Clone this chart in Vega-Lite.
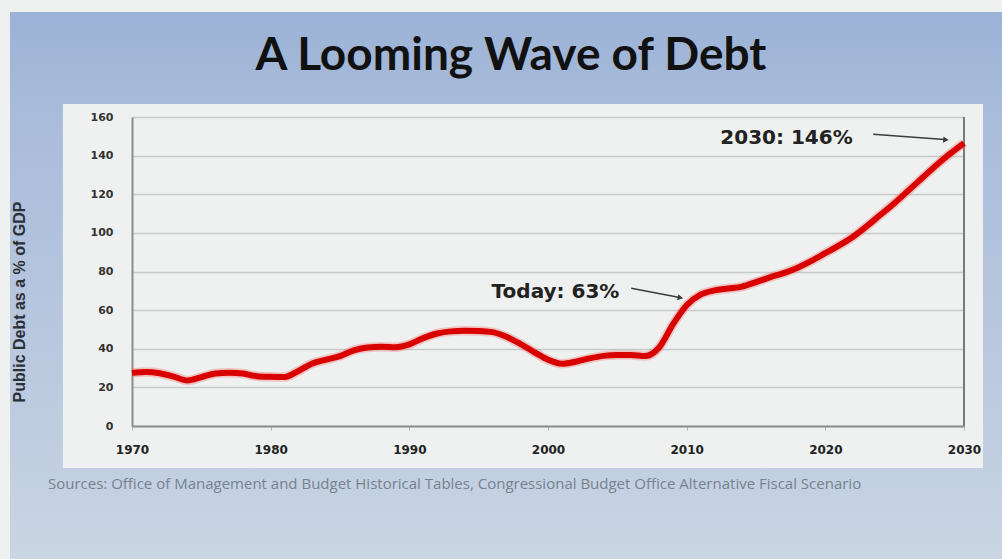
{
  "$schema": "https://vega.github.io/schema/vega-lite/v6.json",
  "width": 832,
  "height": 309,
  "autosize": {"type": "none"},
  "padding": {"left": 132, "top": 117, "right": 38, "bottom": 133},
  "background": "#eef1ef",
  "config": {
    "view": {"stroke": null},
    "axisX": {
      "title": null, "tickCount": 6, "format": "d",
      "grid": false, "domainColor": "#8c8c8c", "domainWidth": 2,
      "tickColor": "#b4b4b4", "tickSize": 4, "tickWidth": 1,
      "labelFont": "DejaVu Sans", "labelFontWeight": "bold", "labelFontSize": 12,
      "labelColor": "#222222", "labelPadding": 14, "labelFlush": false, "labelOverlap": false
    },
    "axisY": {
      "title": null, "tickCount": 9,
      "grid": true, "gridColor": "#c6c9ca", "gridWidth": 1.5,
      "domainColor": "#8c8c8c", "domainWidth": 2, "ticks": false,
      "labelPadding": 19, "labelFont": "DejaVu Sans", "labelFontWeight": "bold",
      "labelFontSize": 11, "labelColor": "#333333", "labelOverlap": false
    }
  },
  "datasets": {
    "debt": [
      {"year": 1970, "debt": 27.5}, {"year": 1971, "debt": 28.0}, {"year": 1972, "debt": 27.3},
      {"year": 1973, "debt": 25.6}, {"year": 1974, "debt": 23.6}, {"year": 1975, "debt": 25.3},
      {"year": 1976, "debt": 27.2}, {"year": 1977, "debt": 27.6}, {"year": 1978, "debt": 27.2},
      {"year": 1979, "debt": 25.8}, {"year": 1980, "debt": 25.5}, {"year": 1981, "debt": 25.4},
      {"year": 1982, "debt": 28.5}, {"year": 1983, "debt": 32.4}, {"year": 1984, "debt": 34.4},
      {"year": 1985, "debt": 36.2}, {"year": 1986, "debt": 39.2}, {"year": 1987, "debt": 40.7},
      {"year": 1988, "debt": 41.0}, {"year": 1989, "debt": 40.8}, {"year": 1990, "debt": 42.3},
      {"year": 1991, "debt": 45.5}, {"year": 1992, "debt": 47.9}, {"year": 1993, "debt": 49.0},
      {"year": 1994, "debt": 49.3}, {"year": 1995, "debt": 49.2}, {"year": 1996, "debt": 48.6},
      {"year": 1997, "debt": 46.2}, {"year": 1998, "debt": 42.5}, {"year": 1999, "debt": 38.3},
      {"year": 2000, "debt": 34.3}, {"year": 2001, "debt": 32.2}, {"year": 2002, "debt": 33.3},
      {"year": 2003, "debt": 35.0}, {"year": 2004, "debt": 36.3}, {"year": 2005, "debt": 36.8},
      {"year": 2006, "debt": 36.8}, {"year": 2007, "debt": 36.2}, {"year": 2008, "debt": 40.5},
      {"year": 2009, "debt": 52.5}, {"year": 2010, "debt": 62.5}, {"year": 2011, "debt": 68.0},
      {"year": 2012, "debt": 70.2}, {"year": 2013, "debt": 71.2}, {"year": 2014, "debt": 72.2},
      {"year": 2015, "debt": 74.5}, {"year": 2016, "debt": 77.0}, {"year": 2017, "debt": 79.2},
      {"year": 2018, "debt": 82.0}, {"year": 2019, "debt": 85.5}, {"year": 2020, "debt": 89.5},
      {"year": 2021, "debt": 93.5}, {"year": 2022, "debt": 98.0}, {"year": 2023, "debt": 103.5},
      {"year": 2024, "debt": 109.5}, {"year": 2025, "debt": 115.5}, {"year": 2026, "debt": 122.0},
      {"year": 2027, "debt": 128.5}, {"year": 2028, "debt": 135.0}, {"year": 2029, "debt": 141.0},
      {"year": 2030, "debt": 146.5}
    ],
    "notes": [
      {"label": "Today: 63%", "tx": 2000.54, "ty": 69.6, "ax": 2006.0, "ay": 71.3, "bx": 2009.5, "by": 66.5},
      {"label": "2030: 146%", "tx": 2017.2, "ty": 149.0, "ax": 2023.45, "ay": 151.1, "bx": 2028.6, "by": 148.3}
    ]
  },
  "layer": [
    {
      "data": {"values": [{}]},
      "mark": {"type": "rect", "color": {"gradient": "linear", "x1": 0, "y1": 0, "x2": 0, "y2": 1, "stops": [{"offset": 0, "color": "#9bb2d6"}, {"offset": 1, "color": "#a8bbda"}]}},
      "encoding": {"x": {"datum": 1961.2}, "x2": {"datum": 2033.5}, "y": {"datum": 214.4}, "y2": {"datum": 166.7}}
    },
    {
      "data": {"values": [{}]},
      "mark": {"type": "rect", "color": {"gradient": "linear", "x1": 0, "y1": 0, "x2": 0, "y2": 1, "stops": [{"offset": 0, "color": "#a8bbda"}, {"offset": 1, "color": "#c2cfe1"}]}},
      "encoding": {"x": {"datum": 1961.2}, "x2": {"datum": 1965.02}, "y": {"datum": 166.7}, "y2": {"datum": -21.75}}
    },
    {
      "data": {"values": [{}]},
      "mark": {"type": "rect", "color": {"gradient": "linear", "x1": 0, "y1": 0, "x2": 0, "y2": 1, "stops": [{"offset": 0, "color": "#a8bbda"}, {"offset": 1, "color": "#c2cfe1"}]}},
      "encoding": {"x": {"datum": 2031.37}, "x2": {"datum": 2033.5}, "y": {"datum": 166.7}, "y2": {"datum": -21.75}}
    },
    {
      "data": {"values": [{}]},
      "mark": {"type": "rect", "color": {"gradient": "linear", "x1": 0, "y1": 0, "x2": 0, "y2": 1, "stops": [{"offset": 0, "color": "#c2cfe1"}, {"offset": 1, "color": "#cbd6e3"}]}},
      "encoding": {"x": {"datum": 1961.2}, "x2": {"datum": 2033.5}, "y": {"datum": -21.75}, "y2": {"datum": -70}}
    },
    {
      "data": {"values": [{}]},
      "mark": {"type": "rule", "color": "#7a7a7a", "strokeWidth": 2},
      "encoding": {"x": {"datum": 2030}, "y": {"datum": 0}, "y2": {"datum": 160}}
    },
    {
      "data": {"name": "debt"},
      "mark": {"type": "line", "interpolate": "monotone", "color": "#f27070", "strokeWidth": 9.5, "opacity": 0.35},
      "encoding": {
        "x": {"field": "year", "type": "quantitative"},
        "y": {"field": "debt", "type": "quantitative"}
      }
    },
    {
      "data": {"name": "debt"},
      "mark": {"type": "line", "interpolate": "monotone", "color": "#d90000", "strokeWidth": 6},
      "encoding": {
        "x": {
          "field": "year", "type": "quantitative", "title": null,
          "scale": {"domain": [1970, 2030], "nice": false, "zero": false}
        },
        "y": {
          "field": "debt", "type": "quantitative", "title": null,
          "scale": {"domain": [0, 160], "nice": false}
        }
      }
    },
    {
      "data": {"name": "notes"},
      "mark": {"type": "rule", "color": "#3c3c3c", "strokeWidth": 1.5},
      "encoding": {
        "x": {"field": "ax", "type": "quantitative"},
        "y": {"field": "ay", "type": "quantitative"},
        "x2": {"field": "bx"},
        "y2": {"field": "by"}
      }
    },
    {
      "data": {"values": [{}]},
      "mark": {"type": "point", "shape": "triangle-right", "filled": true, "color": "#3c3c3c", "size": 40, "opacity": 1, "angle": 11},
      "encoding": {"x": {"datum": 2009.55}, "y": {"datum": 66.4}}
    },
    {
      "data": {"values": [{}]},
      "mark": {"type": "point", "shape": "triangle-right", "filled": true, "color": "#3c3c3c", "size": 40, "opacity": 1, "angle": 5},
      "encoding": {"x": {"datum": 2028.7}, "y": {"datum": 148.2}}
    },
    {
      "data": {"name": "notes"},
      "mark": {"type": "text", "font": "DejaVu Sans", "fontWeight": "bold", "fontSize": 20, "color": "#222222", "align": "center", "baseline": "middle"},
      "encoding": {
        "x": {"field": "tx", "type": "quantitative"},
        "y": {"field": "ty", "type": "quantitative"},
        "text": {"field": "label"}
      }
    },
    {
      "data": {"values": [{"t": "A Looming Wave of Debt"}]},
      "mark": {"type": "text", "font": "Lato", "fontWeight": "bold", "fontSize": 46, "color": "#111111", "align": "center", "baseline": "alphabetic"},
      "encoding": {"x": {"datum": 1997.33}, "y": {"datum": 184.3}, "text": {"field": "t"}}
    },
    {
      "data": {"values": [{"t": "Public Debt  as a % of GDP"}]},
      "mark": {"type": "text", "font": "Liberation Sans", "fontWeight": "bold", "fontSize": 16, "color": "#2b2f36", "align": "center", "baseline": "middle", "angle": 270},
      "encoding": {"x": {"datum": 1961.92}, "y": {"datum": 64.2}, "text": {"field": "t"}}
    },
    {
      "data": {"values": [{"t": "Sources: Office of Management and Budget Historical Tables, Congressional Budget Office Alternative Fiscal Scenario"}]},
      "mark": {"type": "text", "font": "Open Sans", "fontSize": 15, "color": "#76828f", "align": "left", "baseline": "middle"},
      "encoding": {"x": {"datum": 1963.94}, "y": {"datum": -30.0}, "text": {"field": "t"}}
    }
  ]
}
